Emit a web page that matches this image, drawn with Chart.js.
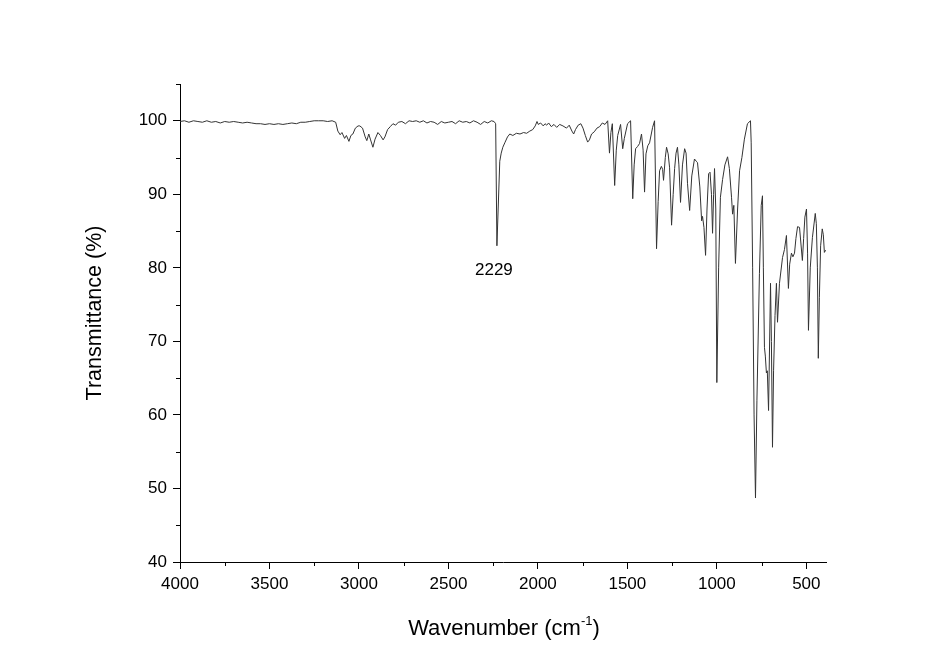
<!DOCTYPE html>
<html>
<head>
  <title>IR spectrum</title>
  <script src="https://cdn.jsdelivr.net/npm/chart.js@4.4.1/dist/chart.umd.min.js"></script>
  <style>
    body { margin: 0; background: #fff; }
  </style>
</head>
<body>
  <canvas id="irChart" width="941" height="664"></canvas>
  <script>
    // spectrum (cm-1, %T)
    const wavenumber = [
      4000, 3975, 3950, 3925, 3900, 3875, 3850, 3825, 3800, 3775, 3750, 3725, 3700, 3675, 3650, 3625,
      3600, 3575, 3550, 3525, 3500, 3475, 3450, 3425, 3400, 3375, 3350, 3325, 3300, 3275, 3250, 3225,
      3200, 3175, 3150, 3130, 3118, 3105, 3095, 3080, 3070, 3056, 3045, 3034, 3020, 3005, 2995, 2980,
      2965, 2956, 2945, 2935, 2922, 2910, 2894, 2880, 2865, 2855, 2840, 2825, 2810, 2795, 2780, 2760,
      2740, 2720, 2700, 2680, 2660, 2640, 2620, 2600, 2580, 2560, 2540, 2520, 2500, 2480, 2460, 2440,
      2420, 2400, 2380, 2360, 2340, 2320, 2300, 2280, 2260, 2245, 2236, 2229, 2222, 2213, 2205, 2196,
      2185, 2170, 2157, 2140, 2120, 2100, 2080, 2063, 2045, 2029, 2015, 2005, 1998, 1985, 1970, 1960,
      1951, 1940, 1925, 1910, 1895, 1878, 1860, 1840, 1825, 1810, 1800, 1790, 1775, 1760, 1748, 1735,
      1722, 1712, 1700, 1685, 1670, 1655, 1640, 1625, 1610, 1600, 1592, 1584, 1571, 1562, 1554, 1538,
      1526, 1517, 1499, 1482, 1470, 1462, 1454, 1443, 1432, 1421, 1412, 1404, 1396, 1386, 1376, 1359,
      1348, 1337, 1328, 1320, 1310, 1303, 1298, 1288, 1281, 1272, 1264, 1253, 1244, 1236, 1228, 1220,
      1212, 1203, 1192, 1180, 1172, 1164, 1152, 1140, 1125, 1115, 1108, 1095, 1085, 1080, 1072, 1063,
      1055, 1046, 1038, 1030, 1024, 1018, 1013, 1006, 1000, 990, 980, 968, 955, 940, 930, 918,
      912, 905, 896, 884, 873, 860, 846, 829, 812, 808, 800, 792, 784, 776, 762, 752,
      745, 740, 734, 729, 723, 718, 711, 700, 695, 689, 683, 675, 667, 661, 650, 633,
      622, 611, 600, 593, 583, 575, 566, 558, 549, 538, 522, 515, 508, 499, 493, 488,
      478, 466, 450, 444, 438, 433, 427, 420, 411, 405, 399, 392
    ];
    const transmittance = [
      99.9, 100.0, 99.8, 100.0, 99.9, 99.8, 100.0, 99.8, 99.9, 99.7, 99.9, 99.8, 99.9, 99.8, 99.7, 99.8,
      99.7, 99.6, 99.6, 99.5, 99.6, 99.5, 99.6, 99.5, 99.6, 99.7, 99.6, 99.8, 99.8, 99.9, 100.0, 100.0,
      100.0, 99.9, 100.0, 99.8, 98.6, 98.1, 98.4, 97.6, 98.0, 97.2, 98.0, 98.2, 99.0, 99.3, 99.3, 99.0,
      97.8, 97.3, 98.2, 97.4, 96.4, 97.5, 98.4, 98.0, 97.4, 97.8, 98.8, 99.2, 99.6, 99.4, 99.8, 99.9,
      99.6, 100.0, 99.9, 100.0, 99.8, 100.0, 99.7, 99.9, 99.8, 99.5, 99.9, 99.7, 99.8, 99.9, 99.6, 100.0,
      99.8, 99.9, 99.7, 100.0, 99.8, 99.5, 99.9, 99.7, 100.0, 99.9, 99.6, 83.0, 88.0, 94.5, 95.6, 96.4,
      97.0, 97.8, 98.2, 98.0, 98.3, 98.2, 98.4, 98.3, 98.6, 98.8, 99.3, 99.9, 99.5, 99.7, 99.3, 99.6,
      99.4, 99.7, 99.2, 99.5, 99.1, 99.5, 99.3, 99.0, 99.4, 98.6, 98.2, 98.8, 99.4, 99.6, 99.0, 98.0,
      97.1, 97.4, 98.2, 98.5, 99.0, 99.2, 99.7, 99.5, 100.0, 95.6, 98.4, 99.6, 91.2, 96.0, 98.0, 99.5,
      96.2, 97.6, 99.6, 100.0, 89.4, 94.0, 96.2, 96.5, 96.9, 98.2, 96.0, 90.3, 95.5, 96.6, 97.0, 99.1,
      100.0, 82.6, 89.0, 93.2, 93.8, 93.4, 91.9, 95.0, 96.4, 95.5, 93.6, 85.8, 90.0, 93.5, 95.6, 96.4,
      94.0, 88.9, 94.0, 96.2, 95.6, 91.5, 87.8, 92.5, 94.8, 94.5, 94.3, 91.0, 86.4, 87.0, 85.5, 81.7,
      88.0, 92.8, 93.0, 90.0, 84.7, 90.0, 93.5, 88.0, 64.4, 80.0, 89.6, 92.0, 94.0, 95.1, 93.5, 89.6,
      87.3, 88.5, 80.6, 88.0, 93.2, 95.0, 97.5, 99.6, 100.0, 97.0, 80.0, 60.0, 48.7, 62.0, 79.2, 88.5,
      89.8, 80.0, 69.2, 68.0, 65.7, 66.0, 60.6, 77.9, 70.0, 55.6, 66.0, 73.5, 77.9, 72.6, 77.9, 81.4,
      82.5, 84.4, 77.2, 80.5, 82.0, 81.5, 82.0, 84.0, 85.6, 85.5, 81.0, 84.0, 86.9, 88.0, 82.0, 71.5,
      80.0, 84.1, 87.4, 86.0, 80.0, 67.7, 76.0, 83.0, 85.3, 84.5, 82.1, 82.4
    ];

    const xTicks = [4000, 3500, 3000, 2500, 2000, 1500, 1000, 500];
    const xMinor = [3750, 3250, 2750, 2250, 1750, 1250, 750];
    const yTicks = [40, 50, 60, 70, 80, 90, 100];
    const yMinor = [45, 55, 65, 75, 85, 95, 105];
    const peakLabel = 2229;
    const peakLabelY = 79.6;
    const yTitle = 'Transmittance (%)';

    const FONT = '"Liberation Sans", Arial, sans-serif';

    const extras = {
      id: 'extras',
      afterDraw(chart) {
        const { ctx, scales: { x, y }, chartArea } = chart;
        ctx.save();
        ctx.strokeStyle = '#000';
        ctx.lineWidth = 1;
        ctx.beginPath();
        xMinor.forEach(v => {
          const px = Math.round(x.getPixelForValue(v)) + 0.5;
          ctx.moveTo(px, chartArea.bottom);
          ctx.lineTo(px, chartArea.bottom + 4);
        });
        yMinor.forEach(v => {
          const py = Math.round(y.getPixelForValue(v)) + 0.5;
          ctx.moveTo(chartArea.left, py);
          ctx.lineTo(chartArea.left - 4, py);
        });
        ctx.stroke();

        ctx.fillStyle = '#000';
        ctx.font = '17px ' + FONT;
        ctx.textAlign = 'center';
        ctx.textBaseline = 'middle';
        ctx.fillText(String(peakLabel), x.getPixelForValue(peakLabel) - 3, y.getPixelForValue(peakLabelY));

        // y axis title
        ctx.save();
        ctx.translate(chartArea.left - 85, chartArea.top + 229);
        ctx.rotate(-Math.PI / 2);
        ctx.font = '21.5px ' + FONT;
        ctx.fillText(yTitle, 0, 0);
        ctx.restore();

        // x axis title with superscript
        const main = 'Wavenumber (cm';
        const sup = '-1';
        const close = ')';
        ctx.textBaseline = 'alphabetic';
        ctx.textAlign = 'left';
        ctx.font = '22px ' + FONT;
        const w1 = ctx.measureText(main).width;
        const w3 = ctx.measureText(close).width;
        ctx.font = '13px ' + FONT;
        const w2 = ctx.measureText(sup).width;
        const cx = (chartArea.left + chartArea.right) / 2 + 1;
        let tx = cx - (w1 + w2 + w3) / 2;
        const base = chartArea.bottom + 73;
        ctx.font = '22px ' + FONT;
        ctx.fillText(main, tx, base);
        ctx.font = '13px ' + FONT;
        ctx.fillText(sup, tx + w1, base - 10);
        ctx.font = '22px ' + FONT;
        ctx.fillText(close, tx + w1 + w2, base);
        ctx.restore();
      }
    };

    const ctx = document.getElementById('irChart').getContext('2d');
    new Chart(ctx, {
      type: 'line',
      data: {
        datasets: [{
          data: wavenumber.map((w, i) => ({ x: w, y: transmittance[i] })),
          borderColor: '#333',
          borderWidth: 1,
          pointRadius: 0,
          tension: 0,
          fill: false
        }]
      },
      options: {
        responsive: false,
        animation: false,
        layout: { padding: { left: 0, top: 84, right: 115, bottom: 0 } },
        plugins: { legend: { display: false }, tooltip: { enabled: false } },
        scales: {
          x: {
            type: 'linear',
            reverse: true,
            min: 390,
            max: 4000,
            afterFit: s => { s.height = 102; },
            afterBuildTicks: s => { s.ticks = xTicks.map(v => ({ value: v })); },
            grid: { display: true, drawOnChartArea: false, drawTicks: true, tickLength: 7, color: '#000', lineWidth: 1 },
            border: { display: true, color: '#000', width: 1 },
            ticks: { color: '#000', padding: 5, maxRotation: 0, font: { family: FONT, size: 17 }, callback: v => String(v) }
          },
          y: {
            min: 40,
            max: 105,
            afterFit: s => { s.width = 180; },
            afterBuildTicks: s => { s.ticks = yTicks.map(v => ({ value: v })); },
            grid: { display: true, drawOnChartArea: false, drawTicks: true, tickLength: 7, color: '#000', lineWidth: 1 },
            border: { display: true, color: '#000', width: 1 },
            ticks: { color: '#000', padding: 6, font: { family: FONT, size: 17 }, callback: v => String(v) }
          }
        }
      },
      plugins: [extras]
    });
  </script>
</body>
</html>
